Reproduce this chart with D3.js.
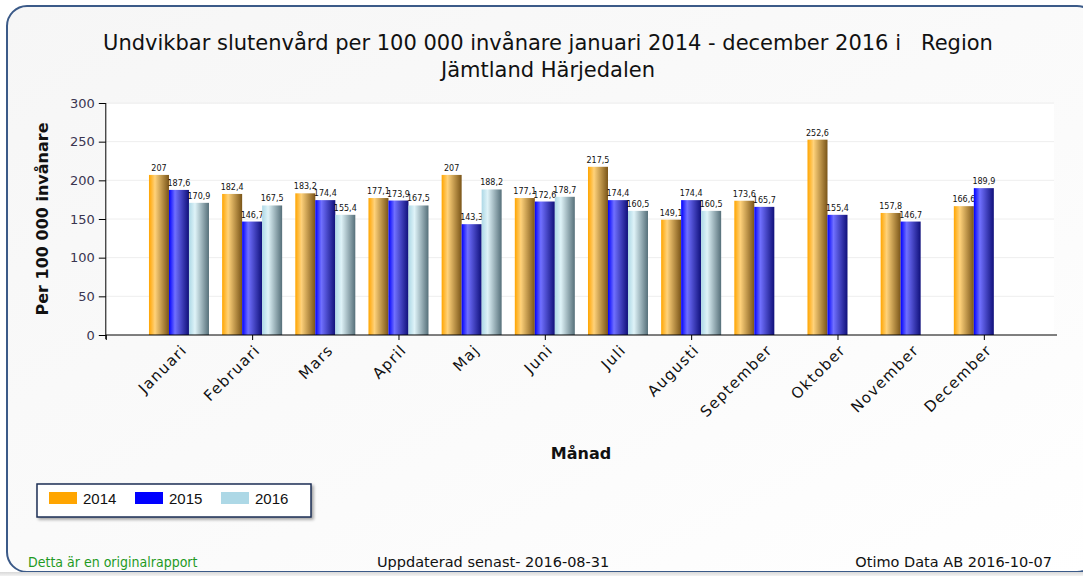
<!DOCTYPE html>
<html lang="sv">
<head>
  <meta charset="UTF-8">
  <title>Undvikbar slutenvård</title>
  <script src="https://d3js.org/d3.v7.min.js"></script>
  <style>
    body { margin: 0; background: #fff; }
    svg { display: block; }
    .axis text { font: 13px "DejaVu Sans", Verdana, sans-serif; fill: #3a3550; }
    .axis path, .axis line { stroke: #000; }
  </style>
</head>
<body>
  <script>
    // Månader och värden per år
    const months = ["Januari", "Februari", "Mars", "April", "Maj", "Juni", "Juli",
      "Augusti", "September", "Oktober", "November", "December"];
    const years = ["2014", "2015", "2016"];
    const v2014 = [207, 182.4, 183.2, 177.1, 207, 177.1, 217.5, 149.1, 173.6, 252.6, 157.8, 166.6];
    const v2015 = [187.6, 146.7, 174.4, 173.9, 143.3, 172.6, 174.4, 174.4, 165.7, 155.4, 146.7, 189.9];
    const v2016 = [170.9, 167.5, 155.4, 167.5, 188.2, 178.7, 160.5, 160.5, null, null, null, null];
    const yTicks = [0, 50, 100, 150, 200, 250, 300];
    const series = [v2014, v2015, v2016];
    const colors = ["#FFA500", "#0000FF", "#ADD8E6"];
    const darks = ["#7a5518", "#10107a", "#56707a"];
    const lights = ["#ffd27a", "#7070ff", "#dff3f8"];

    const width = 1083, height = 576;
    const svg = d3.select("body").append("svg")
      .attr("width", width).attr("height", height);
    const defs = svg.append("defs");

    // Bakgrundskort
    const bg = defs.append("linearGradient").attr("id", "bg")
      .attr("x1", 0).attr("y1", 0).attr("x2", 1).attr("y2", 1);
    bg.append("stop").attr("offset", "0%").attr("stop-color", "#f6f6f6");
    bg.append("stop").attr("offset", "60%").attr("stop-color", "#fbfbfb");
    bg.append("stop").attr("offset", "100%").attr("stop-color", "#ffffff");

    const sh = defs.append("filter").attr("id", "shadow")
      .attr("x", "-5%").attr("y", "-5%").attr("width", "115%").attr("height", "130%");
    sh.append("feDropShadow").attr("dx", 2).attr("dy", 2).attr("stdDeviation", 1.5)
      .attr("flood-color", "#000").attr("flood-opacity", 0.35);

    const foot = defs.append("linearGradient").attr("id", "foot")
      .attr("x1", 0).attr("y1", 0).attr("x2", 0).attr("y2", 1);
    foot.append("stop").attr("offset", "0%").attr("stop-color", "#d8d8d8");
    foot.append("stop").attr("offset", "100%").attr("stop-color", "#f2f2f2");

    svg.append("rect").attr("x", 7).attr("y", 6).attr("width", 1090).attr("height", 566)
      .attr("rx", 20).attr("fill", "url(#bg)")
      .attr("stroke", "#3b5a88").attr("stroke-width", 2);
    svg.append("rect").attr("x", 0).attr("y", 572).attr("width", width).attr("height", 4)
      .attr("fill", "url(#foot)");

    // Stapelgradienter
    colors.forEach((c, i) => {
      const g = defs.append("linearGradient").attr("id", "g" + i)
        .attr("x1", 0).attr("y1", 0).attr("x2", 1).attr("y2", 0);
      g.append("stop").attr("offset", "0%").attr("stop-color", c);
      g.append("stop").attr("offset", "30%").attr("stop-color", lights[i]);
      g.append("stop").attr("offset", "100%").attr("stop-color", darks[i]);
    });

    // Titel
    const title = svg.append("text").attr("text-anchor", "middle")
      .style("font", "21px 'DejaVu Sans', sans-serif").attr("fill", "#111");
    title.append("tspan").attr("x", 548).attr("y", 50)
      .text("Undvikbar slutenvård per 100 000 invånare januari 2014 - december 2016 i\u00a0\u00a0\u00a0Region");
    title.append("tspan").attr("x", 548).attr("y", 77).text("Jämtland Härjedalen");

    // Skalor
    const x = d3.scaleLinear().domain([-1, 12]).range([105.8, 1057]);
    const y = d3.scaleLinear().domain([0, 300]).range([335, 103]);
    const barW = 20;

    svg.append("rect").attr("x", x(-1)).attr("y", 104).attr("width", 1054 - x(-1))
      .attr("height", 335 - 104).attr("fill", "#fff");

    // Rutnät
    svg.append("g").selectAll("line").data(yTicks.slice(1)).join("line")
      .attr("x1", x(-1)).attr("x2", 1054).attr("y1", d => y(d)).attr("y2", d => y(d))
      .attr("stroke", "#eeeeee");

    // Staplar
    const bars = svg.append("g");
    series.forEach((vals, s) => {
      const data = vals.map((v, i) => ({ v, i })).filter(d => d.v != null);
      bars.selectAll(".b" + s).data(data).join("rect")
        .attr("x", d => x(d.i) - 1.5 * barW + s * barW)
        .attr("y", d => y(d.v)).attr("width", barW)
        .attr("height", d => y(0) - y(d.v))
        .attr("fill", "url(#g" + s + ")");
      bars.selectAll(".l" + s).data(data).join("text")
        .attr("x", d => x(d.i) - barW + s * barW)
        .attr("y", d => y(d.v) - 4)
        .attr("text-anchor", "middle")
        .style("font", "8px 'DejaVu Sans', sans-serif").attr("fill", "#111")
        .text(d => String(d.v).replace(".", ","));
    });

    // Axlar
    svg.append("g").attr("class", "axis").attr("transform", "translate(105.8,0)")
      .call(d3.axisLeft(y).tickValues(yTicks).tickSize(7).tickPadding(4))
      .call(g => g.select(".domain").attr("d", `M0,${y(300)}V${y(0) + 4}`));

    const xa = svg.append("g").attr("class", "axis").attr("transform", `translate(0,${y(0)})`)
      .call(d3.axisBottom(x).tickValues([-1, 1, 3, 5, 7, 9, 11]).tickSize(5).tickFormat(""));
    xa.select(".domain").attr("d", `M${x(-1)},0H${x(12)}`);

    svg.append("g").selectAll("text").data(months).join("text")
      .attr("transform", (d, i) => `translate(${x(i) + 9},${y(0) + 16}) rotate(-45)`)
      .attr("text-anchor", "end")
      .style("font", "15px 'DejaVu Sans', Verdana, sans-serif")
      .style("letter-spacing", "1.3px").attr("fill", "#111")
      .text(d => d);

    // Axeltitlar
    svg.append("text").attr("transform", "translate(48,219) rotate(-90)")
      .attr("text-anchor", "middle")
      .style("font", "bold 16px 'DejaVu Sans', Verdana, sans-serif").attr("fill", "#111")
      .text("Per 100 000 invånare");
    svg.append("text").attr("x", 581).attr("y", 459).attr("text-anchor", "middle")
      .style("font", "bold 16px 'DejaVu Sans', Verdana, sans-serif").attr("fill", "#111")
      .text("Månad");

    // Legend
    const lg = svg.append("g").attr("transform", "translate(37,484)");
    lg.append("rect").attr("width", 274).attr("height", 33).attr("fill", "#fff")
      .attr("stroke", "#1d2f55").attr("stroke-width", 1.5).attr("filter", "url(#shadow)");
    years.forEach((yr, i) => {
      const gx = 12 + i * 86;
      lg.append("rect").attr("x", gx).attr("y", 8).attr("width", 28).attr("height", 12)
        .attr("fill", colors[i]);
      lg.append("text").attr("x", gx + 34).attr("y", 20)
        .style("font", "15px 'Liberation Sans', Arial, sans-serif").attr("fill", "#111")
        .text(yr);
    });

    // Sidfot
    svg.append("text").attr("x", 28).attr("y", 567)
      .style("font", "14px 'DejaVu Sans Condensed', 'DejaVu Sans', sans-serif")
      .attr("fill", "#1f9a1f").text("Detta är en originalrapport");
    svg.append("text").attr("x", 377).attr("y", 567)
      .style("font", "14.5px 'DejaVu Sans', sans-serif")
      .attr("fill", "#111").text("Uppdaterad senast- 2016-08-31");
    svg.append("text").attr("x", 1052).attr("y", 567).attr("text-anchor", "end")
      .style("font", "14.5px 'DejaVu Sans', sans-serif")
      .attr("fill", "#111").text("Otimo Data AB 2016-10-07");
  </script>
</body>
</html>
